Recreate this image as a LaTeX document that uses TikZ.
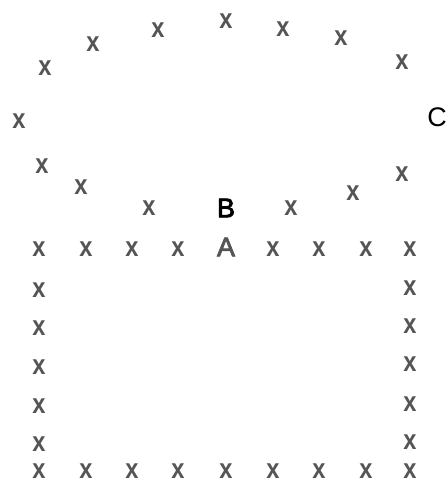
\documentclass[tikz,border=0pt]{standalone}
\usepackage{fontspec}
\setmainfont{Liberation Sans}
\newfontfamily\semib[FakeBold=3]{Liberation Sans}
\definecolor{mgray}{HTML}{555555}
\newcommand{\mkx}{\scalebox{0.85}[1]{\bfseries x}}
\begin{document}
\begin{tikzpicture}[x=1bp,y=-1bp,
  mk/.style={inner sep=0pt,text=mgray,font=\fontsize{28}{28}\selectfont},
  lbl/.style={inner sep=0pt,font=\fontsize{27}{27}\selectfont}]
\useasboundingbox (0,0) rectangle (447,483);
% arc of marks
\foreach \px/\py [count=\i] in {45/68,93/44,158/30,226/21,283/29,341/38,402/62,19/121,42/166,81/187,149/208,291/208,353/193,402/174}
  \node[mk] (t\i) at (\px,\py) {\mkx};
\node[lbl,font=\fontsize{27}{27}\semib] (B) at (226,208) {B};
\node[lbl] (C) at (437,117) {C};
% top row
\foreach \px [count=\i] in {39,86,132,178}
  \node[mk] (r\i) at (\px,249) {\mkx};
\node[mk,font=\fontsize{27}{27}\semib] (A) at (226,247) {A};
\foreach \px [count=\i from 6] in {273,319,366,410}
  \node[mk] (r\i) at (\px,249) {\mkx};
% left column
\foreach \py [count=\i] in {290,328,367,406,444}
  \node[mk] (l\i) at (39,\py) {\mkx};
% right column
\foreach \py [count=\i] in {288,326,364,404,442}
  \node[mk] (g\i) at (410,\py) {\mkx};
% bottom row
\foreach \px [count=\i] in {39,86,132,178,226,273,319,366,410}
  \node[mk] (b\i) at (\px,471) {\mkx};
\end{tikzpicture}
\end{document}
